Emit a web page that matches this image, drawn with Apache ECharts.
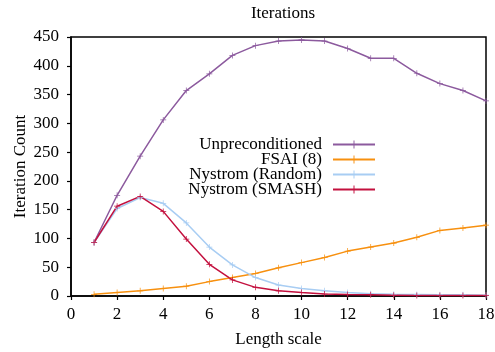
<!DOCTYPE html>
<html>
<head>
<meta charset="utf-8">
<script src="https://cdn.jsdelivr.net/npm/echarts@6/dist/echarts.min.js"></script>
<style>
  html, body { margin: 0; padding: 0; background: #fff; }
  #chart { width: 495px; height: 352px; }
</style>
</head>
<body>
<div id="chart"></div>
<script>
// Length scales on the x axis
const lengthScales = [1, 2, 3, 4, 5, 6, 7, 8, 9, 10, 11, 12, 13, 14, 15, 16, 17, 18];

// Iteration counts per solver configuration
const unpreconditioned = [93, 175, 243, 306, 357, 386, 418, 435, 443, 445, 443, 430, 413, 413, 387, 369, 357, 339];
const fsai8 = [3, 6, 9, 13, 17, 25, 32, 39, 49, 58, 67, 78, 85, 92, 102, 114, 118, 123];
const nystromRandom = [93, 152, 171, 161, 127, 85, 54, 32, 19, 13, 9, 6, 4, 3, 2.5, 2, 2, 1.5];
const nystromSmash = [93, 156, 173, 147, 99, 55, 28, 15, 9, 6, 3.5, 2.5, 2, 1.5, 1, 1, 1, 1];

const seriesNames = ['Unpreconditioned', 'FSAI (8)', 'Nystrom (Random)', 'Nystrom (SMASH)'];
const seriesColors = ['#8c5a9e', '#f7900f', '#a8cdf3', '#c3103e'];
const seriesValues = [unpreconditioned, fsai8, nystromRandom, nystromSmash];

const FONT = 'Liberation Serif';
const FS = 17;
const plusMarker = 'path://M-0.6,-5H0.6V-0.6H5V0.6H0.6V5H-0.6V0.6H-5V-0.6H-0.6Z';

const chart = echarts.init(document.getElementById('chart'), null, { renderer: 'canvas' });

chart.setOption({
  animation: false,
  backgroundColor: '#fff',
  title: {
    text: 'Iterations',
    left: 278,
    textAlign: 'center',
    top: 0,
    textStyle: { fontFamily: FONT, fontWeight: 'normal', fontSize: FS, color: '#000' }
  },
  legend: {
    orient: 'vertical',
    align: 'right',
    right: 114,
    top: 131,
    itemWidth: 42,
    itemHeight: 10,
    itemGap: -2,
    textStyle: { fontFamily: FONT, fontSize: FS, color: '#000', padding: [0, 6, 0, 0] },
    data: seriesNames
  },
  grid: {
    left: 71, right: 9, top: 37, bottom: 56,
    outerBoundsMode: 'none',
    containLabel: false,
    show: true, borderColor: '#000', borderWidth: 1.5
  },
  xAxis: {
    type: 'value',
    min: 0, max: 18, interval: 2,
    name: 'Length scale',
    nameLocation: 'middle',
    nameGap: 35,
    nameMoveOverlap: false,
    nameTextStyle: { fontFamily: FONT, fontSize: FS, color: '#000' },
    axisLine: { show: true, lineStyle: { color: '#000', width: 1.5 } },
    axisTick: { show: true, length: 4, lineStyle: { color: '#000', width: 1.2 } },
    axisLabel: { fontFamily: FONT, fontSize: FS, color: '#000', margin: 10 },
    splitLine: { show: false }
  },
  yAxis: {
    type: 'value',
    min: 0, max: 450, interval: 50,
    name: 'Iteration Count',
    nameLocation: 'middle',
    nameGap: 42,
    nameMoveOverlap: false,
    nameTextStyle: { fontFamily: FONT, fontSize: FS, color: '#000' },
    axisLine: { show: true, lineStyle: { color: '#000', width: 1.5 } },
    axisTick: { show: true, length: 4, lineStyle: { color: '#000', width: 1.2 } },
    axisLabel: { fontFamily: FONT, fontSize: FS, color: '#000', margin: 12 },
    splitLine: { show: false }
  },
  series: seriesNames.map((name, i) => ({
    name: name,
    type: 'line',
    data: lengthScales.map((x, j) => [x, seriesValues[i][j]]),
    color: seriesColors[i],
    lineStyle: { width: 1.5, color: seriesColors[i] },
    itemStyle: { color: seriesColors[i] },
    symbol: plusMarker,
    symbolSize: 6,
    showSymbol: true
  }))
});
</script>
</body>
</html>
